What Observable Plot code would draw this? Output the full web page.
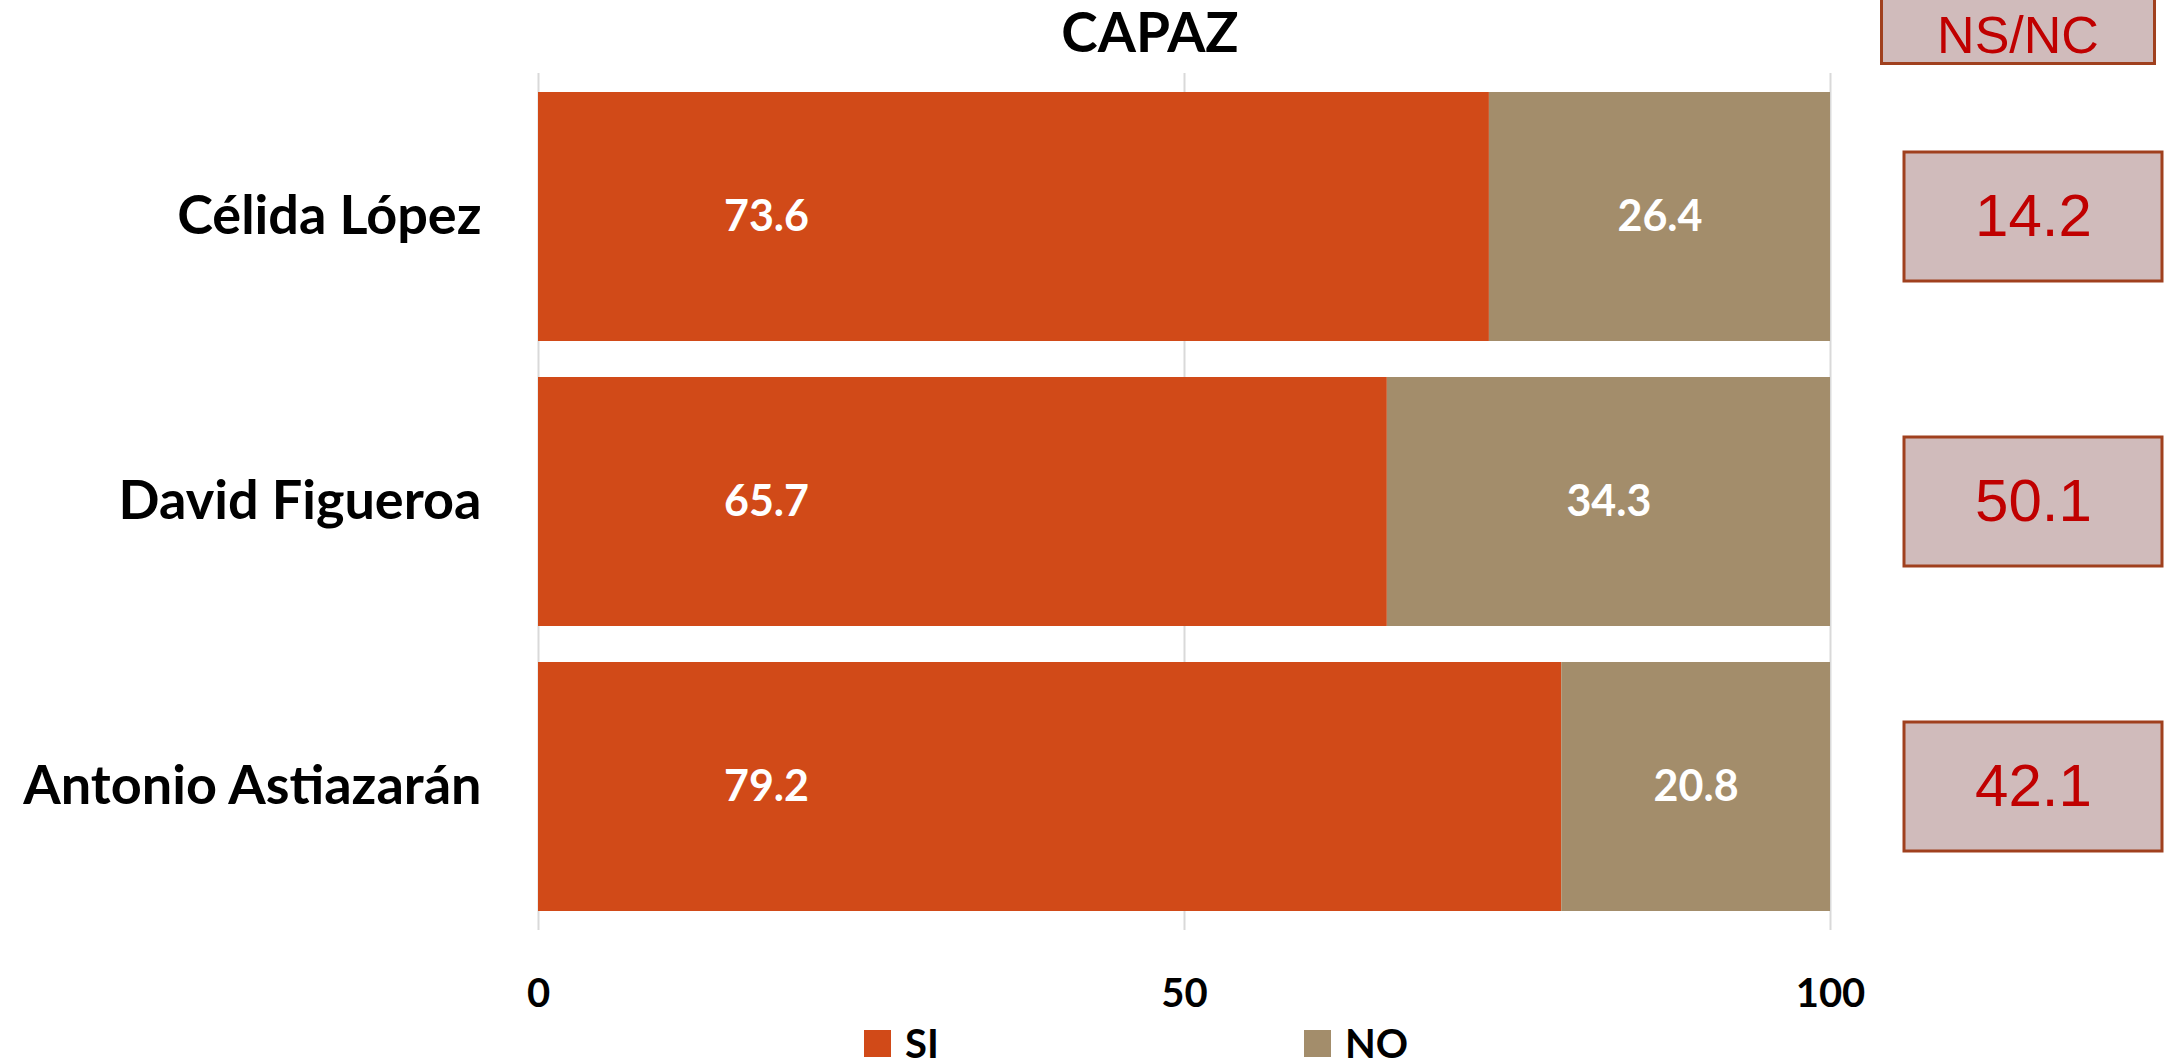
<!DOCTYPE html>
<html>
<head>
<meta charset="utf-8">
<script src="https://cdn.jsdelivr.net/npm/d3@7"></script>
<script src="https://cdn.jsdelivr.net/npm/@observablehq/plot@0.6"></script>
<style>
  body { margin: 0; background: #fff; }
  #wrap { position: relative; width: 2174px; height: 1061px; overflow: hidden; font-family: Lato, sans-serif; }
  #title { position: absolute; z-index: 5; left: 1150px; top: 4px; transform: translateX(-50%); font: bold 55px/1 Lato, sans-serif; color: #000; white-space: nowrap; }
  #main { position: absolute; left: 0; top: 0; }
  #side { position: absolute; left: 1880px; top: 0; }
  #nshead { position: absolute; z-index: 5; left: 1880px; top: -8px; width: 270px; height: 67px; background: #D0BBBB; border: 3px solid #A0401E;
            color: #C00000; font: 52px/1 "Liberation Sans", Arial, sans-serif; text-align: center; }
  #nshead span { position: relative; top: 14px; }
  #legend { position: absolute; z-index: 5; left: 864px; top: 1023px; display: flex; align-items: flex-start; }
  .item { display: flex; align-items: flex-start; width: 440px; }
  .sw { width: 27px; height: 27px; margin-top: 7px; margin-right: 14px; }
  .lab { font: bold 40px/1 Lato, sans-serif; color: #000; }
</style>
</head>
<body>
<div id="wrap">
  <div id="main"></div>
  <div id="side"></div>
  <div id="title"></div>
  <div id="nshead"><span></span></div>
  <div id="legend"></div>
</div>
<script>
// ---- data ----
const titleText = "CAPAZ";
const candidates = ["Célida López", "David Figueroa", "Antonio Astiazarán"];
const series = ["SI", "NO"];
const siValues = [73.6, 65.7, 79.2];
const noValues = [26.4, 34.3, 20.8];
const nsncValues = [14.2, 50.1, 42.1];
const nsncLabel = "NS/NC";
const xTicks = [0, 50, 100];
const seriesColors = ["#D14A18", "#A38D6B"];

// ---- tables ----
const table = [];
candidates.forEach((c, i) => {
  table.push({candidate: c, serie: "SI", value: siValues[i]});
  table.push({candidate: c, serie: "NO", value: noValues[i]});
});
const nsRows = candidates.map((c, i) => ({candidate: c, value: nsncValues[i]}));

document.getElementById("title").textContent = titleText;
document.querySelector("#nshead span").textContent = nsncLabel;

const yScale = {domain: candidates, paddingInner: 0.125, paddingOuter: 0.0625};

const main = Plot.plot({
  width: 1880,
  height: 1020,
  marginTop: 73,
  marginBottom: 90,
  marginLeft: 538,
  marginRight: 50,
  style: {fontFamily: "Lato, sans-serif", background: "white", color: "#000", overflow: "visible"},
  x: {domain: [0, 100]},
  y: {...yScale, label: null},
  color: {domain: series, range: seriesColors},
  marks: [
    Plot.gridX({ticks: xTicks, stroke: "#D9D9D9", strokeOpacity: 1, strokeWidth: 2}),
    Plot.barX(table, Plot.stackX({x: "value", y: "candidate", fill: "serie", z: "serie"})),
    Plot.text(table.filter(d => d.serie === "SI"), {
      y: "candidate", frameAnchor: "left", dx: 228, text: d => d.value.toFixed(1),
      fill: "white", fontSize: 43, fontWeight: "bold", textAnchor: "middle"
    }),
    Plot.text(table, Plot.stackX({
      x: "value", y: "candidate", z: "serie",
      text: d => d.serie === "NO" ? d.value.toFixed(1) : null,
      fill: "white", fontSize: 43, fontWeight: "bold"
    })),
    Plot.axisX({ticks: xTicks, tickSize: 0, tickPadding: 48, fontSize: 40, fontWeight: "bold", label: null}),
    Plot.axisY({tickSize: 0, tickPadding: 57, fontSize: 54, fontWeight: "bold", label: null})
  ]
});
document.getElementById("main").appendChild(main);

const side = Plot.plot({
  width: 294,
  height: 1020,
  marginTop: 73,
  marginBottom: 90,
  marginLeft: 24,
  marginRight: 12,
  style: {background: "transparent", overflow: "visible"},
  x: {domain: [nsncLabel], padding: 0, axis: null},
  y: {...yScale, axis: null},
  marks: [
    Plot.cell(nsRows, {x: () => nsncLabel, y: "candidate", fill: "#D0BBBB", stroke: "#A0401E", strokeWidth: 3, insetTop: 60, insetBottom: 60}),
    Plot.text(nsRows, {x: () => nsncLabel, y: "candidate", text: d => d.value.toFixed(1), fill: "#C00000", fontSize: 60, fontFamily: "Liberation Sans, Arial, sans-serif"})
  ]
});
document.getElementById("side").appendChild(side);

// legend
const legend = document.getElementById("legend");
series.forEach((s, i) => {
  const item = document.createElement("div");
  item.className = "item";
  const sw = document.createElement("div");
  sw.className = "sw";
  sw.style.background = seriesColors[i];
  const lab = document.createElement("div");
  lab.className = "lab";
  lab.textContent = s;
  item.appendChild(sw); item.appendChild(lab);
  legend.appendChild(item);
});
</script>
</body>
</html>
